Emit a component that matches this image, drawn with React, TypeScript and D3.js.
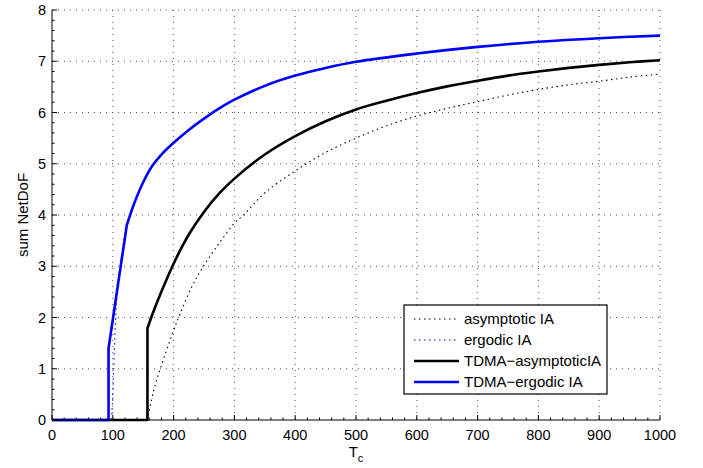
import React from 'react'
import * as d3 from 'd3'

// values
const xTicks = [0, 100, 200, 300, 400, 500, 600, 700, 800, 900, 1000]
const yTicks = [0, 1, 2, 3, 4, 5, 6, 7, 8]

const asymptoticIA: [number, number][] = [
  [0, 0], [157, 0], [161, 0.25], [170, 0.7], [183, 1.17], [200, 1.75], [210, 2.05],
  [230, 2.6], [249, 3.0], [275, 3.45], [300, 3.84], [315, 4.0], [350, 4.43], [400, 4.86],
  [450, 5.22], [500, 5.5], [550, 5.74], [600, 5.93], [650, 6.08], [700, 6.21],
  [750, 6.34], [800, 6.45], [850, 6.54], [900, 6.61], [950, 6.69], [1000, 6.75]
]
const ergodicIA: [number, number][] = [
  [0, 0], [98, 0], [100, 0.5], [102, 1.2], [104, 1.8], [106, 2.3], [110, 2.8],
  [116, 3.35], [123, 3.8], [135, 4.22], [150, 4.64], [165, 4.96], [180, 5.18],
  [200, 5.41], [225, 5.66], [250, 5.88], [275, 6.08], [300, 6.25], [350, 6.52],
  [400, 6.72], [450, 6.87], [500, 6.99], [600, 7.15], [700, 7.28], [800, 7.38],
  [900, 7.45], [1000, 7.5]
]
const tdmaAsymptoticIA: [number, number][] = [
  [0, 0], [157, 0], [157, 1.79], [165, 2.06], [178, 2.45], [200, 3.05], [225, 3.62],
  [250, 4.06], [275, 4.42], [300, 4.71], [350, 5.18], [400, 5.54], [450, 5.83],
  [500, 6.06], [550, 6.23], [600, 6.38], [650, 6.51], [700, 6.62], [750, 6.72],
  [800, 6.8], [850, 6.87], [900, 6.93], [950, 6.98], [1000, 7.02]
]
const tdmaErgodicIA: [number, number][] = [
  [0, 0], [93, 0], [93, 1.4], [123, 3.8], [135, 4.22], [150, 4.64], [165, 4.96],
  [180, 5.18], [200, 5.41], [225, 5.66], [250, 5.88], [275, 6.08], [300, 6.25],
  [350, 6.52], [400, 6.72], [450, 6.87], [500, 6.99], [600, 7.15], [700, 7.28],
  [800, 7.38], [900, 7.45], [1000, 7.5]
]

const seriesNames = ['asymptotic IA', 'ergodic IA', 'TDMA\u2212asymptoticIA', 'TDMA\u2212ergodic IA']

const font = 'Liberation Sans, Arial, Helvetica, sans-serif'

export default function App() {
  const W = 703
  const H = 468
  const margin = { top: 10, right: 43, bottom: 48, left: 52 }
  const width = W - margin.left - margin.right
  const height = H - margin.top - margin.bottom

  const x = d3.scaleLinear().domain([0, 1000]).range([0, width])
  const y = d3.scaleLinear().domain([0, 8]).range([height, 0])

  const smooth = d3.line<[number, number]>()
    .x(d => x(d[0]))
    .y(d => y(d[1]))
    .curve(d3.curveCatmullRom.alpha(0.5))
  const linear = d3.line<[number, number]>().x(d => x(d[0])).y(d => y(d[1]))

  // the jump part is drawn straight, the rest smooth; k = index where smoothing starts
  const pathFor = (d: [number, number][], k: number) => {
    const head = d.slice(0, k + 1)
    const tail = d.slice(k)
    return (linear(head) as string) + (smooth(tail) as string).replace(/^M/, 'L')
  }

  const styles = [
    { data: asymptoticIA, color: '#000', w: 1.1, dash: '1.5 3.5', k: 1 },
    { data: ergodicIA, color: '#0000ff', w: 1.1, dash: '1.5 3.5', k: 8 },
    { data: tdmaAsymptoticIA, color: '#000', w: 2.6, dash: undefined, k: 2 },
    { data: tdmaErgodicIA, color: '#0000ff', w: 2.6, dash: undefined, k: 3 }
  ]

  const xMinor = d3.range(0, 1001, 20).filter(v => v % 100 !== 0)
  const yMinor = d3.range(0, 8.01, 0.2).filter(v => Math.abs(v - Math.round(v)) > 0.01)

  const lg = { x: 404, y: 305, w: 203, h: 89 }

  return (
    <svg width={W} height={H} style={{ position: 'absolute', left: 0, top: 0, background: '#fff' }}
      fontFamily={font}>
      <rect width={W} height={H} fill="#fff" />
      <g transform={`translate(${margin.left},${margin.top})`}>
        {/* grid */}
        {xTicks.filter(v => v > 0).map(v => (
          <line key={'gx' + v} x1={x(v)} x2={x(v)} y1={0} y2={height}
            stroke="#555" strokeWidth={1} strokeDasharray="1 5" />
        ))}
        {yTicks.filter(v => v > 0).map(v => (
          <line key={'gy' + v} x1={0} x2={width} y1={y(v)} y2={y(v)}
            stroke="#555" strokeWidth={1} strokeDasharray="1 5" />
        ))}

        {/* series */}
        {styles.map((s, i) => (
          <path key={i} d={pathFor(s.data, s.k)} fill="none" stroke={s.color}
            strokeWidth={s.w} strokeDasharray={s.dash} strokeLinejoin="round" />
        ))}

        {/* axes */}
        <line x1={0} x2={width} y1={height} y2={height} stroke="#000" strokeWidth={1} />
        <line x1={0} x2={0} y1={0} y2={height} stroke="#000" strokeWidth={1} />
        {xTicks.map(v => (
          <g key={'tx' + v}>
            <line x1={x(v)} x2={x(v)} y1={height} y2={height - 5} stroke="#000" />
            <text x={x(v)} y={height + 20} textAnchor="middle" fontSize={14.5}>{v}</text>
          </g>
        ))}
        {xMinor.map(v => (
          <line key={'mx' + v} x1={x(v)} x2={x(v)} y1={height} y2={height - 2.5} stroke="#000" />
        ))}
        {yTicks.map(v => (
          <g key={'ty' + v}>
            <line x1={0} x2={5} y1={y(v)} y2={y(v)} stroke="#000" />
            <text x={-6} y={y(v) + 5} textAnchor="end" fontSize={14.5}>{v}</text>
          </g>
        ))}
        {yMinor.map(v => (
          <line key={'my' + v} x1={0} x2={2.5} y1={y(v)} y2={y(v)} stroke="#000" />
        ))}

        {/* axis labels */}
        <text x={width / 2} y={height + 37} textAnchor="middle" fontSize={15}>
          T<tspan fontSize={11} dy={5}>c</tspan>
        </text>
        <text transform={`translate(${-24},${height / 2}) rotate(-90)`} textAnchor="middle" fontSize={15}>
          sum NetDoF
        </text>
      </g>

      {/* legend */}
      <g>
        <rect x={lg.x} y={lg.y} width={lg.w} height={lg.h} fill="#fff" stroke="#000" strokeWidth={1.2} />
        {seriesNames.map((name, i) => {
          const s = styles[i]
          const ry = 319 + i * 21
          return (
            <g key={name}>
              <line x1={414} x2={459} y1={ry} y2={ry} stroke={s.color} strokeWidth={s.w}
                strokeDasharray={s.dash} />
              <text x={464} y={ry + 5} fontSize={15}>{name}</text>
            </g>
          )
        })}
      </g>
    </svg>
  )
}
